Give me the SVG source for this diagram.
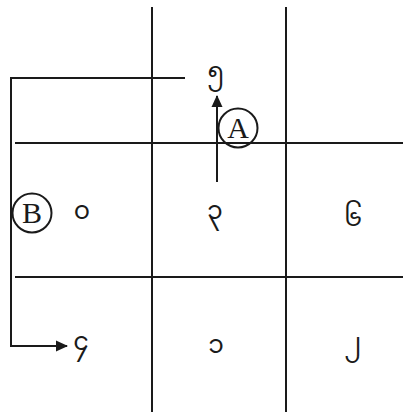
<svg xmlns="http://www.w3.org/2000/svg" width="403" height="412" viewBox="0 0 403 412">
<defs>
<style>
.ln{stroke:#1a1a1a;stroke-width:2;fill:none}
.gl{font-family:"Noto Sans","Noto Sans Myanmar",sans-serif;font-size:25px;fill:#1a1a1a;text-anchor:middle}
.lab{font-family:"Liberation Serif",serif;font-size:30px;fill:#1a1a1a;text-anchor:middle}
</style>
<marker id="ah" markerWidth="12" markerHeight="12" refX="11" refY="6" orient="auto" markerUnits="userSpaceOnUse">
<path d="M0,0.5 L12,6 L0,11.5 Z" fill="#1a1a1a"/>
</marker>
</defs>
<rect width="403" height="412" fill="#fff"/>
<g id="grid" class="ln">
<line x1="152" y1="7" x2="152" y2="412"/>
<line x1="286" y1="7" x2="286" y2="412"/>
<line x1="15" y1="143" x2="403" y2="143"/>
<line x1="15" y1="277" x2="403" y2="277"/>
</g>
<g id="connectors" class="ln">
<path id="conn-a" d="M217,182 V96" marker-end="url(#ah)"/>
<path id="conn-b" d="M185,78 H11 V346 H67" marker-end="url(#ah)"/>
</g>
<g id="label-a"><circle cx="238" cy="128" r="19.5" class="ln"/><text x="238" y="138" class="lab">A</text></g>
<g id="label-b"><circle cx="32" cy="213" r="19.5" class="ln"/><text x="32" y="223" class="lab">B</text></g>
<g id="n-top"><text x="216" y="80" class="gl">၅</text></g>
<g id="n-ml"><text x="82" y="219" class="gl">၀</text></g>
<g id="n-mc"><text x="215" y="219" class="gl">၃</text></g>
<g id="n-mr"><text x="353" y="226" class="gl">၆</text></g>
<g id="n-bl"><text x="81" y="350" class="gl">၄</text></g>
<g id="n-bc"><text x="216" y="353" class="gl">၁</text></g>
<g id="n-br"><text x="353" y="351" class="gl">၂</text></g>
</svg>
